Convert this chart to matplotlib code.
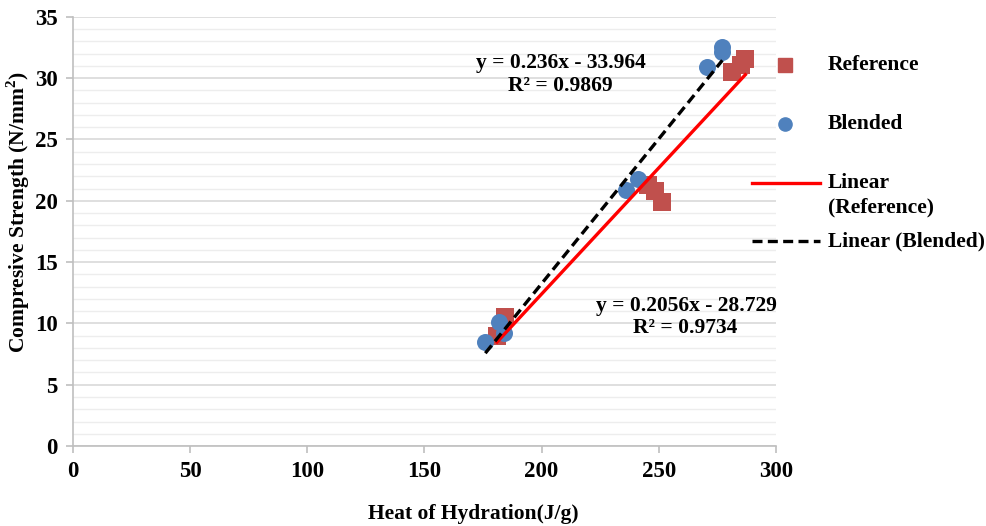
import numpy as np
import matplotlib
matplotlib.use("Agg")
import matplotlib.pyplot as plt
from matplotlib.ticker import MultipleLocator
from matplotlib.lines import Line2D

plt.rcParams['font.family'] = ['Liberation Serif', 'DejaVu Serif']
plt.rcParams['font.weight'] = 'bold'
plt.rcParams['mathtext.fontset'] = 'custom'
plt.rcParams['mathtext.rm'] = 'Liberation Serif:bold'
plt.rcParams['mathtext.bf'] = 'Liberation Serif:bold'

# Measured samples
ref_heat = [181.0, 184.5, 245.5, 248.5, 251.5, 281.5, 285.0, 287.0]
ref_strength = [9.0, 10.5, 21.3, 20.8, 19.9, 30.5, 31.1, 31.6]
bl_heat = [176.0, 182.0, 184.0, 236.0, 241.0, 270.5, 277.0, 277.2]
bl_strength = [8.5, 10.1, 9.2, 20.9, 21.8, 30.9, 32.1, 32.5]

# Linear trend coefficients (slope, intercept) and fit quality
ref_fit = (0.2056, -28.729)
ref_r2 = 0.9734
bl_fit = (0.236, -33.964)
bl_r2 = 0.9869

REF_COLOR = '#C0504D'
BL_COLOR = '#4F81BD'
DASH = (0, (3, 1.6))
FS = 15.5

W, H = 987, 526
fig = plt.figure(figsize=(W / 100, H / 100), dpi=100)
ax = fig.add_axes([0.074, 0.152, 0.712, 0.816])


def fx(px):
    return px / W


def fy(py):
    return 1 - py / H


ax.set_xlim(0, 300)
ax.set_ylim(0, 35)
ax.xaxis.set_major_locator(MultipleLocator(50))
ax.yaxis.set_major_locator(MultipleLocator(5))
ax.yaxis.set_minor_locator(MultipleLocator(1))
ax.grid(axis='y', which='major', color='#D9D9D9', linewidth=1.2)
ax.grid(axis='y', which='minor', color='#EDEDED', linewidth=1.0)
ax.grid(axis='x', visible=False)
ax.set_axisbelow(True)
for s in ('top', 'right'):
    ax.spines[s].set_visible(False)
for s in ('left', 'bottom'):
    ax.spines[s].set_color('#BFBFBF')
    ax.spines[s].set_linewidth(1.2)
ax.tick_params(axis='both', which='major', colors='#BFBFBF', length=5, width=1.2,
               labelcolor='black', labelsize=16.5)
ax.tick_params(axis='y', which='minor', length=0)
ax.tick_params(axis='x', pad=6)
ax.tick_params(axis='y', pad=6)
for lab in ax.get_xticklabels() + ax.get_yticklabels():
    lab.set_fontweight('bold')

ax.scatter(ref_heat, ref_strength, marker='s', s=170, color=REF_COLOR, zorder=3,
           linewidths=0)
ax.scatter(bl_heat, bl_strength, marker='o', s=150, color=BL_COLOR, zorder=3,
           linewidths=0)

xr = np.array([min(ref_heat), max(ref_heat)])
ax.plot(xr, ref_fit[0] * xr + ref_fit[1], color='#FF0000', linewidth=2.4, zorder=4)
xb = np.array([min(bl_heat), max(bl_heat)])
ax.plot(xb, bl_fit[0] * xb + bl_fit[1], color='black', linewidth=2.4,
        linestyle=DASH, zorder=4)

# Trendline equations
fig.text(fx(561), fy(63), f"y = {bl_fit[0]}x - {abs(bl_fit[1])}",
         ha='center', va='center', fontsize=FS, fontweight='bold')
fig.text(fx(560), fy(86), f"R² = {bl_r2}",
         ha='center', va='center', fontsize=FS, fontweight='bold')
fig.text(fx(686), fy(306), f"y = {ref_fit[0]}x - {abs(ref_fit[1])}",
         ha='center', va='center', fontsize=FS, fontweight='bold')
fig.text(fx(685), fy(328), f"R² = {ref_r2}",
         ha='center', va='center', fontsize=FS, fontweight='bold')

# Axis titles
fig.text(fx(473), fy(514), "Heat of Hydration(J/g)", ha='center', va='center',
         fontsize=FS, fontweight='bold')
fig.text(fx(18), fy(212), "Compresive Strength (N/mm$^\\mathbf{2}$)", ha='center',
         va='center', rotation=90, fontsize=FS, fontweight='bold')

# Legend
fig.add_artist(Line2D([fx(785)], [fy(65)], marker='s', linestyle='none',
                      color=REF_COLOR, markersize=9.5, transform=fig.transFigure))
fig.add_artist(Line2D([fx(785)], [fy(124)], marker='o', linestyle='none',
                      color=BL_COLOR, markersize=9.5, transform=fig.transFigure))
fig.add_artist(Line2D([fx(752), fx(820)], [fy(183), fy(183)], color='#FF0000',
                      linewidth=2.4, transform=fig.transFigure))
fig.add_artist(Line2D([fx(752), fx(820)], [fy(241), fy(241)], color='black',
                      linewidth=2.4, linestyle=DASH, transform=fig.transFigure))
legend_rows = [("Reference", 65), ("Blended", 124), ("Linear", 183),
               ("(Reference)", 207), ("Linear (Blended)", 241)]
for txt, py in legend_rows:
    fig.text(fx(828), fy(py), txt, ha='left', va='center', fontsize=FS,
             fontweight='bold')

fig.savefig("out.png", dpi=100)
